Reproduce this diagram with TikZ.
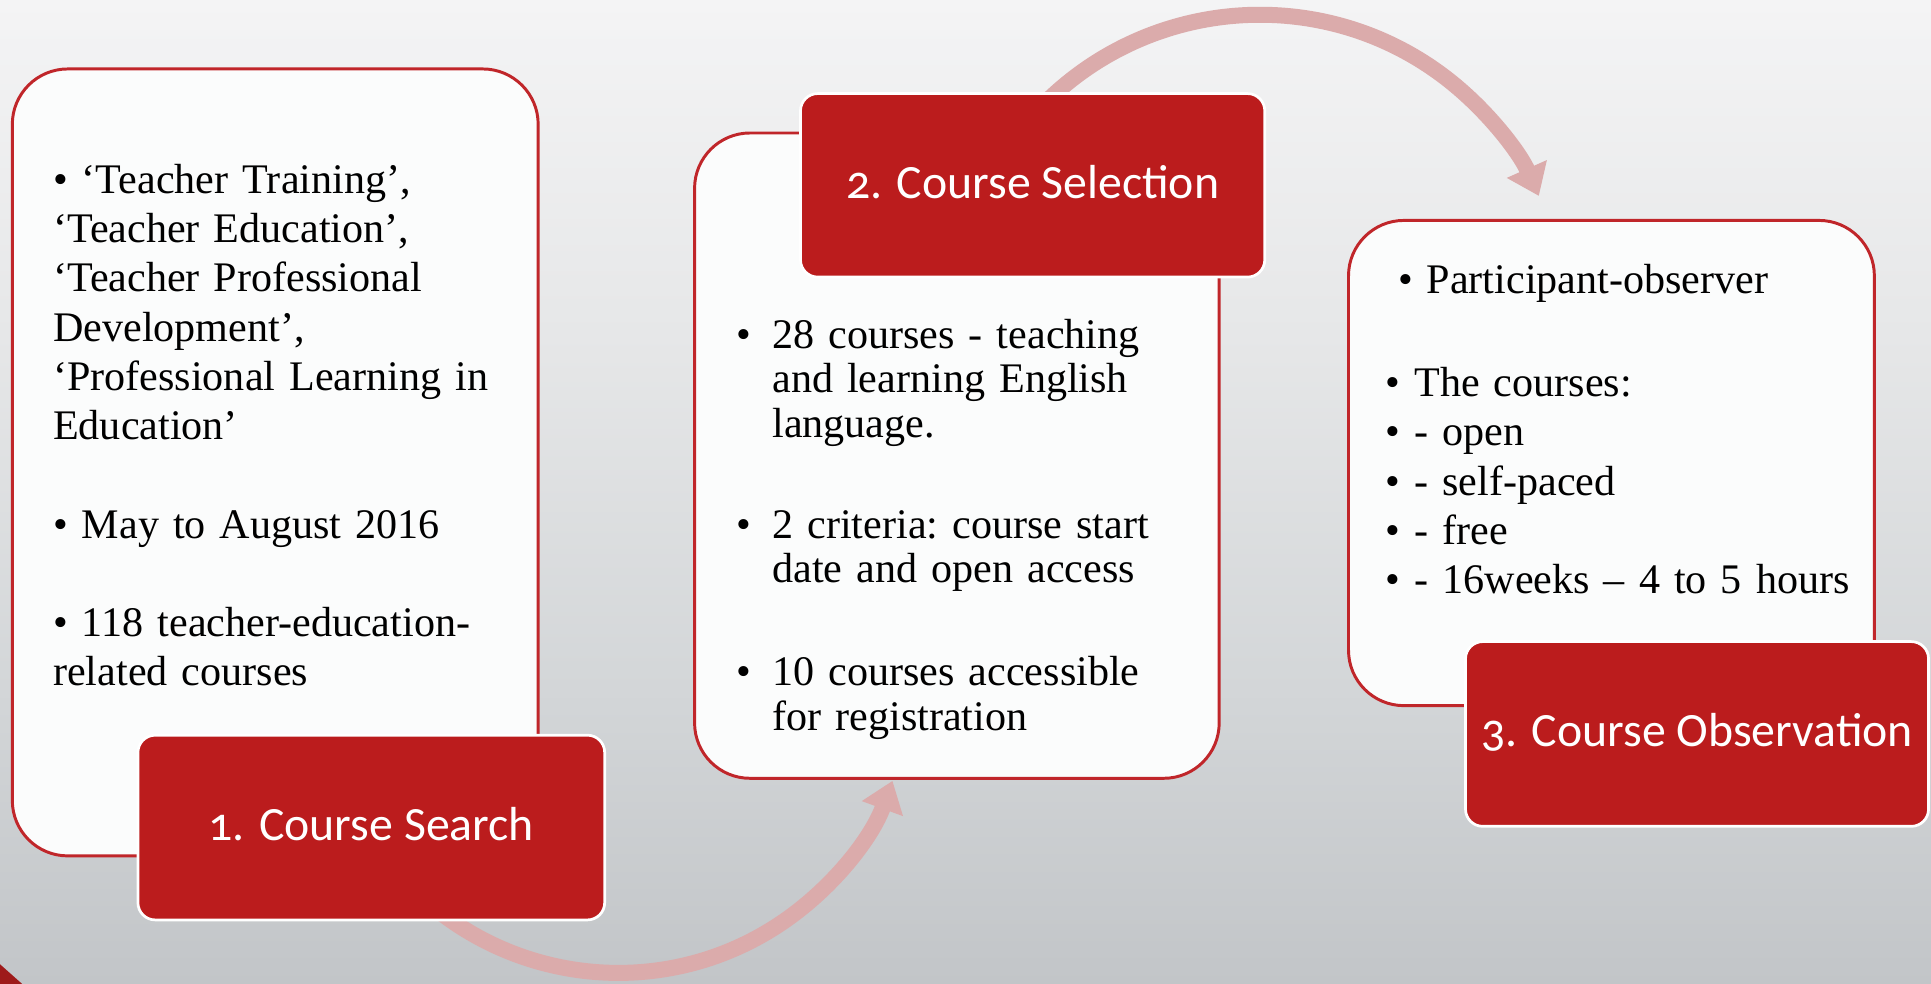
\documentclass[tikz,border=0pt]{standalone}
\usepackage{fontspec}
\setmainfont{Liberation Serif}
\newfontfamily\labelfont{Carlito}[Numbers=OldStyle]
\usetikzlibrary{arrows.meta}
\definecolor{boxred}{HTML}{C0262A}
\definecolor{labred}{HTML}{BB1C1D}
\definecolor{arrowpink}{HTML}{DBABAB}
\definecolor{boxfill}{HTML}{FBFCFC}
\definecolor{bgtop}{HTML}{F4F4F5}
\definecolor{bgmid}{HTML}{E6E7E8}
\definecolor{bglow}{HTML}{D3D6D8}
\definecolor{bgbot}{HTML}{C2C5C8}
\definecolor{cornerred}{HTML}{9E1A1A}
\pgfdeclareverticalshading{slidebg}{100bp}{color(0bp)=(bgbot); color(25bp)=(bgbot); color(40bp)=(bglow); color(58bp)=(bgmid); color(75bp)=(bgtop); color(100bp)=(bgtop)}
\newcommand{\bodyspacing}{\frenchspacing}
\begin{document}
\begin{tikzpicture}[x=1pt,y=1pt,
  stepbox/.style={draw=boxred, line width=2.4pt, fill=boxfill, rounded corners=45pt, inner sep=0pt},
  steplabel/.style={draw=white, line width=2.2pt, fill=labred, rounded corners=14pt, inner sep=0pt,
    text=white, font=\labelfont\fontsize{38.8}{46}\selectfont, text height=21pt, text depth=0pt},
  body/.style={inner sep=0pt, anchor=base west, align=left, text width=440pt,
    font=\fontsize{34.2}{40}\selectfont\bodyspacing},
  bodytight/.style={body, font=\fontsize{34.2}{36}\selectfont\bodyspacing},
  flow/.style={draw=arrowpink, line width=13pt, -{Triangle[length=24pt,width=34pt]}}
]
\useasboundingbox (0,0) rectangle (1568,799);
\shade[shading=slidebg] (0,0) rectangle (1568,799);
\fill[cornerred] (0,0) -- (0,16) -- (18,0) -- cycle;

% boxes
\node[stepbox, minimum width=427pt, minimum height=639pt] (b1) at (223.5,423.5) {};
\node[stepbox, minimum width=426pt, minimum height=524pt] (b2) at (777,429) {};
\node[stepbox, minimum width=427pt, minimum height=394pt] (b3) at (1308.5,423) {};

% arrows
\coordinate (c1) at (502,246);
\coordinate (a1s) at ([shift={(215:237)}]c1);
\draw[flow] (a1s) arc[start angle=215, end angle=340, radius=237];
\coordinate (c2) at (1023,539);
\coordinate (a2s) at ([shift={(140:248)}]c2);
\draw[flow] (a2s) arc[start angle=140, end angle=24, radius=248];

% labels
\node[steplabel, minimum width=379pt, minimum height=150pt] (l1) at (301.5,127) {1. Course Search};
\node[steplabel, minimum width=377pt, minimum height=149pt] (l2) at (838.5,648.5) {2. Course Selection};
\node[steplabel, minimum width=376pt, minimum height=150pt] (l3) at (1378,203) {3. Course Observation};

% texts
\node[body] (t1) at (43,642) {• ‘Teacher Training’,\\
‘Teacher Education’,\\
‘Teacher Professional\\
Development’,\\
‘Professional Learning in\\
Education’\\[40pt]
• May to August 2016\\[40pt]
• 118 teacher-education-\\
related courses};

\node[bodytight] (t2a) at (627,516) {\llap{•\hspace{17pt}}28 courses - teaching\\
and learning English\\
language.};
\node[bodytight] (t2b) at (627,362) {\llap{•\hspace{17pt}}2 criteria: course start\\
date and open access};
\node[bodytight] (t2c) at (627,242) {\llap{•\hspace{17pt}}10 courses accessible\\
for registration};

\node[body] (t3a) at (1135,561) {• Participant-observer};
\node[body] (t3b) at (1125,477) {• The courses:\\
• - open\\
• - self-paced\\
• - free\\
• - 16weeks – 4 to 5 hours};
\end{tikzpicture}
\end{document}
